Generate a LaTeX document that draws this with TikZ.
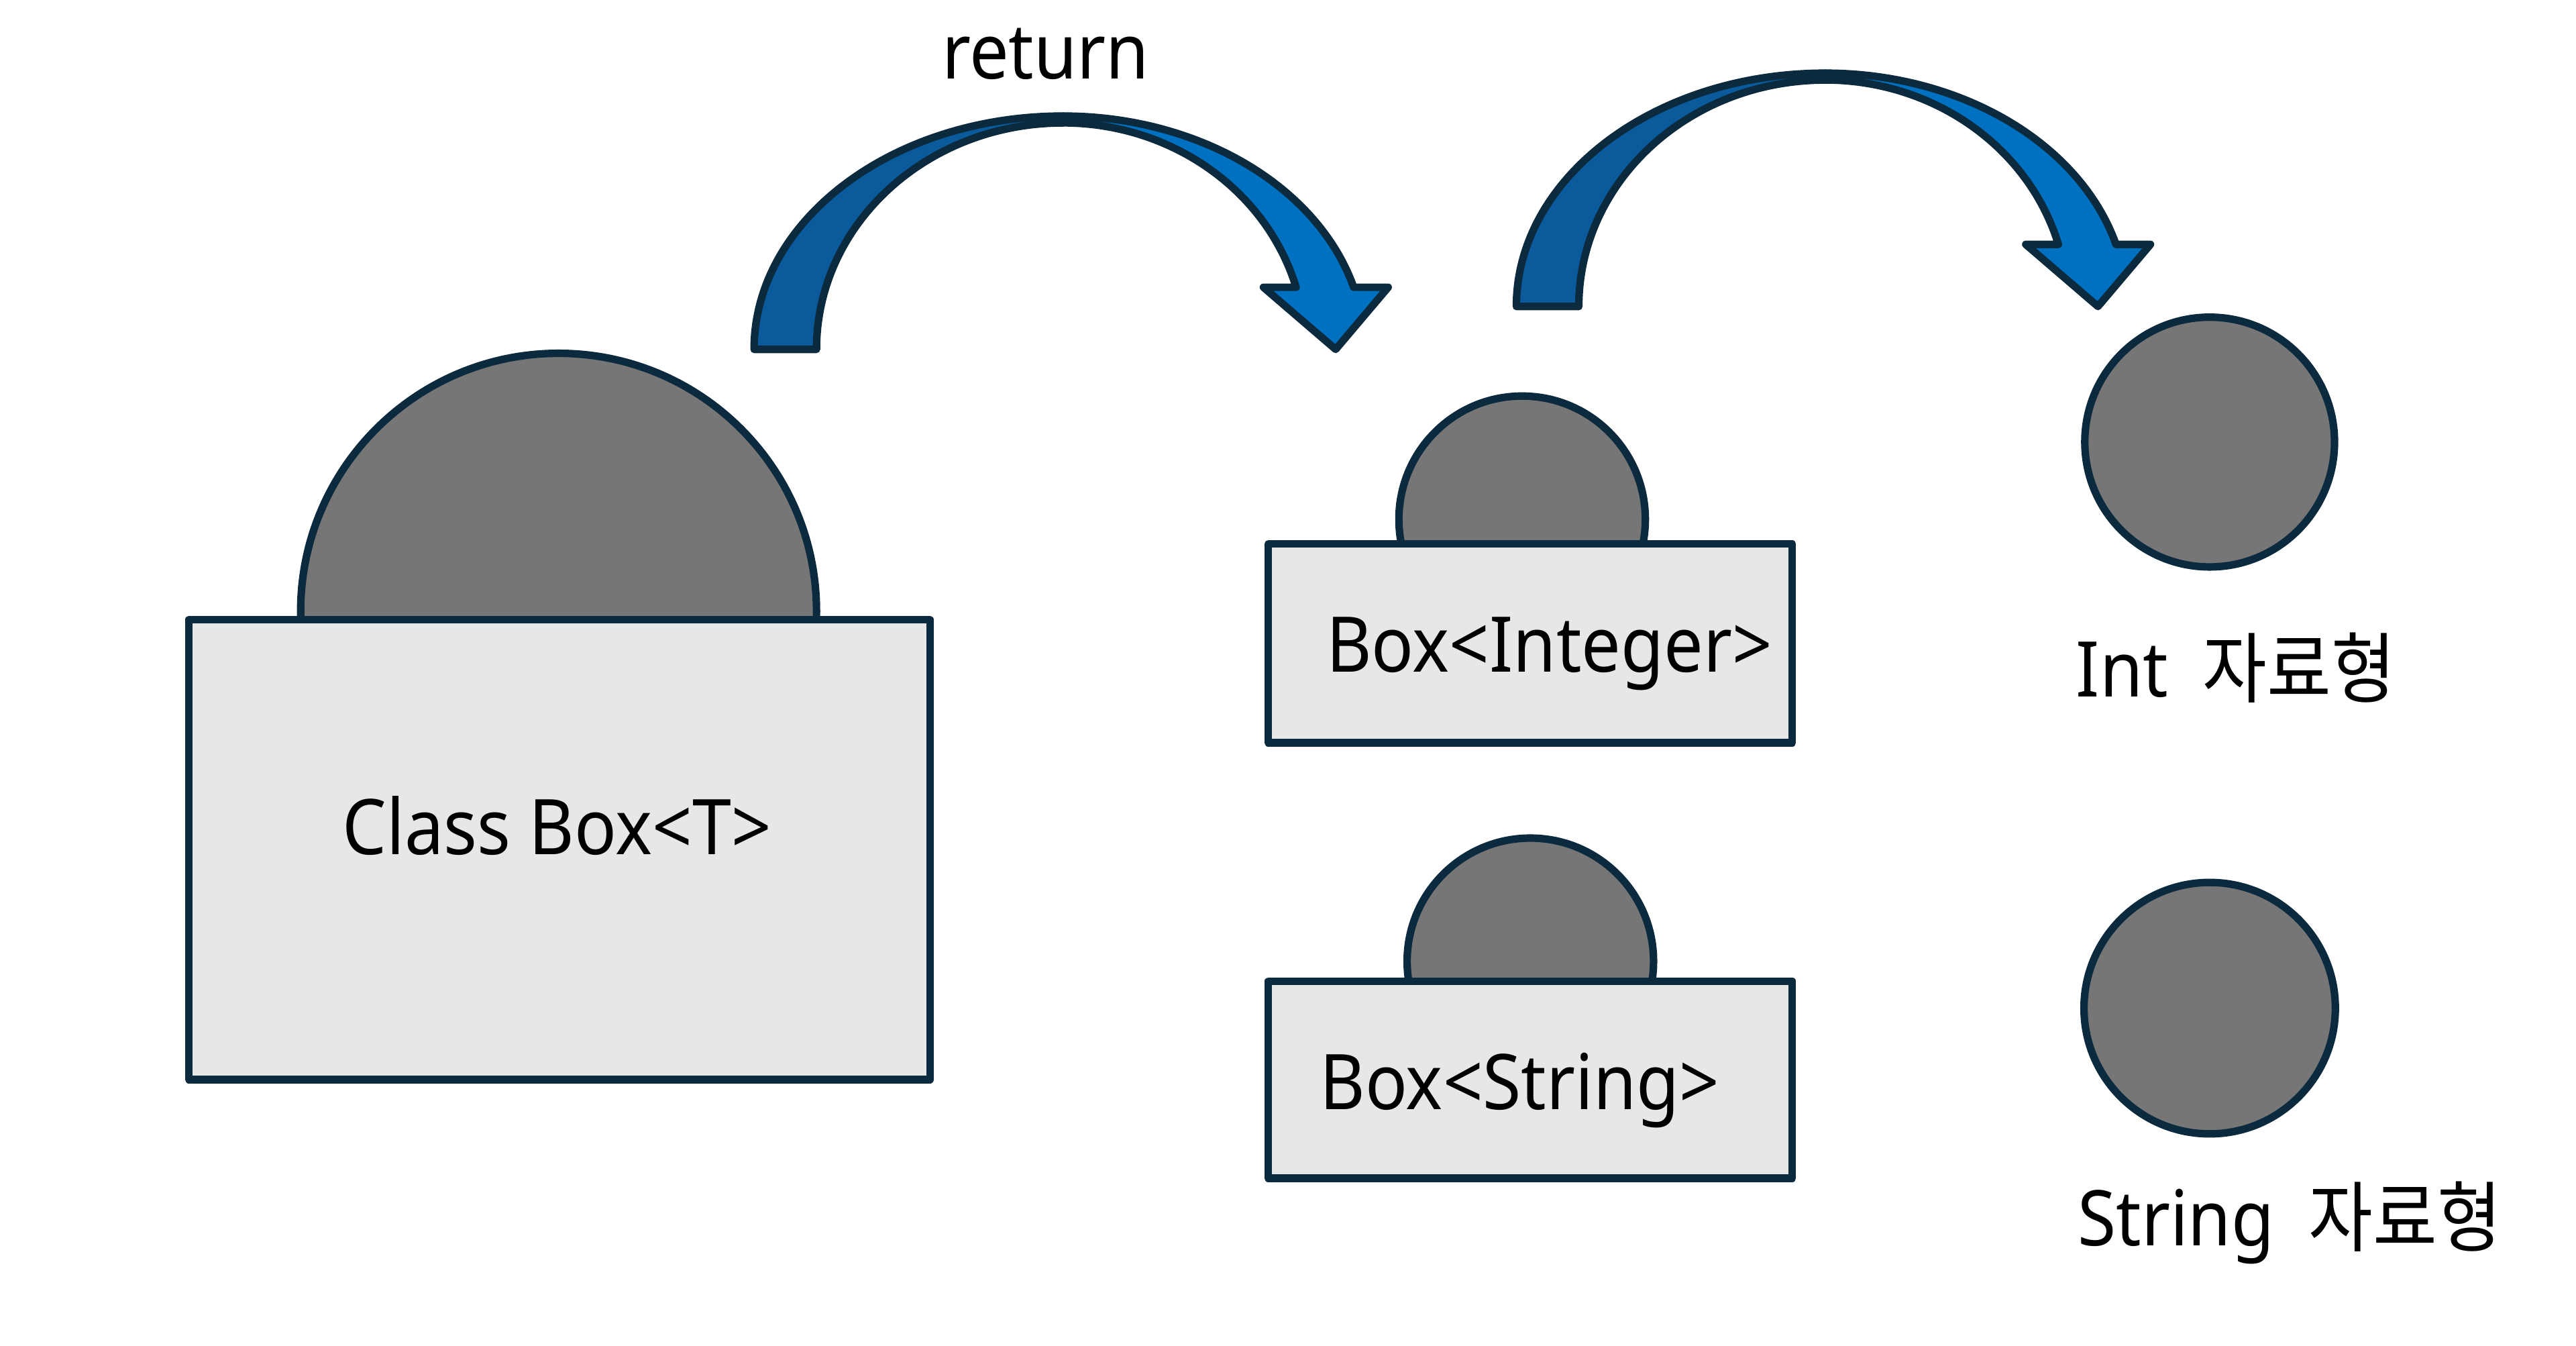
\documentclass[tikz,border=0pt]{standalone}
\usepackage{fontspec}
\setmainfont{Noto Sans}[FakeStretch=0.91]
\newfontfamily\kr{Noto Sans CJK KR}[FakeStretch=0.91]
\usepackage{tikz}
\definecolor{edge}{HTML}{0C2A3E}
\definecolor{arcdark}{HTML}{0A5A9C}
\definecolor{arclight}{HTML}{0070C0}
\definecolor{headgray}{HTML}{767676}
\definecolor{boxgray}{HTML}{E7E7E7}
\tikzset{
  every picture/.style={
    font=\fontsize{13.3pt}{16pt}\selectfont,
    line join=round,
  },
  headshape/.style={circle, draw=edge, fill=headgray, line width=1.3pt, inner sep=0pt},
  boxshape/.style={rectangle, draw=edge, fill=boxgray, line width=1.3pt, inner sep=0pt},
  caption/.style={anchor=base, inner sep=0pt},
  % curved block arrow, origin at the middle of its feet
  bentarrow/.pic={
    \filldraw[fill=arcdark, draw=edge, line width=1.3pt]
      (-1.88,0) arc[start angle=180, end angle=90, x radius=1.88, y radius=1.42]
      -- (0,1.378) arc[start angle=90, end angle=180, x radius=1.50, y radius=1.378]
      -- cycle;
    \filldraw[fill=arclight, draw=edge, line width=1.3pt]
      (0,1.42) arc[start angle=90, end angle=15.44, x radius=1.836, y radius=1.42]
      -- (1.98,0.378) -- (1.66,0) -- (1.22,0.378) -- (1.419,0.378)
      arc[start angle=15.9, end angle=90, x radius=1.476, y radius=1.378]
      -- cycle;
  },
}

\begin{document}
\begin{tikzpicture}
\useasboundingbox (0,0) rectangle (15.68,-8.19);

% heads behind the boxes
\node[headshape, minimum size=3.14cm] (bighead) at (3.40,-3.72) {};
\node[headshape, minimum size=1.50cm] (inthead) at (9.265,-3.16) {};
\node[headshape, minimum size=1.50cm] (strhead) at (9.315,-5.85) {};

% boxes
\node[boxshape, minimum width=4.51cm, minimum height=2.80cm] (classbox) at (3.405,-5.17) {};
\node[boxshape, minimum width=3.19cm, minimum height=1.21cm] (intbox) at (9.315,-3.915) {};
\node[boxshape, minimum width=3.19cm, minimum height=1.20cm] (strbox) at (9.315,-6.57) {};

% value types
\node[headshape, minimum size=1.52cm] (intval) at (13.45,-2.69) {};
\node[headshape, minimum size=1.53cm] (strval) at (13.45,-6.135) {};

% arrows
\pic at (6.47,-2.126) {bentarrow};
\pic at (11.11,-1.865) {bentarrow};

% texts
\node[caption] (ret) at (6.365,-0.48) {return};
\node[caption] (classtxt) at (3.39,-5.20) {Class Box<T>};
\node[caption] (inttxt) at (9.43,-4.09) {Box<Integer>};
\node[caption] (strtxt) at (9.25,-6.75) {Box<String>};
\node[caption, anchor=base west] (intlbl) at (12.63,-4.24) {Int\hskip0.45em{\kr 자료형}};
\node[caption, anchor=base west] (strlbl) at (12.64,-7.58) {String\hskip0.45em{\kr 자료형}};
\end{tikzpicture}
\end{document}
